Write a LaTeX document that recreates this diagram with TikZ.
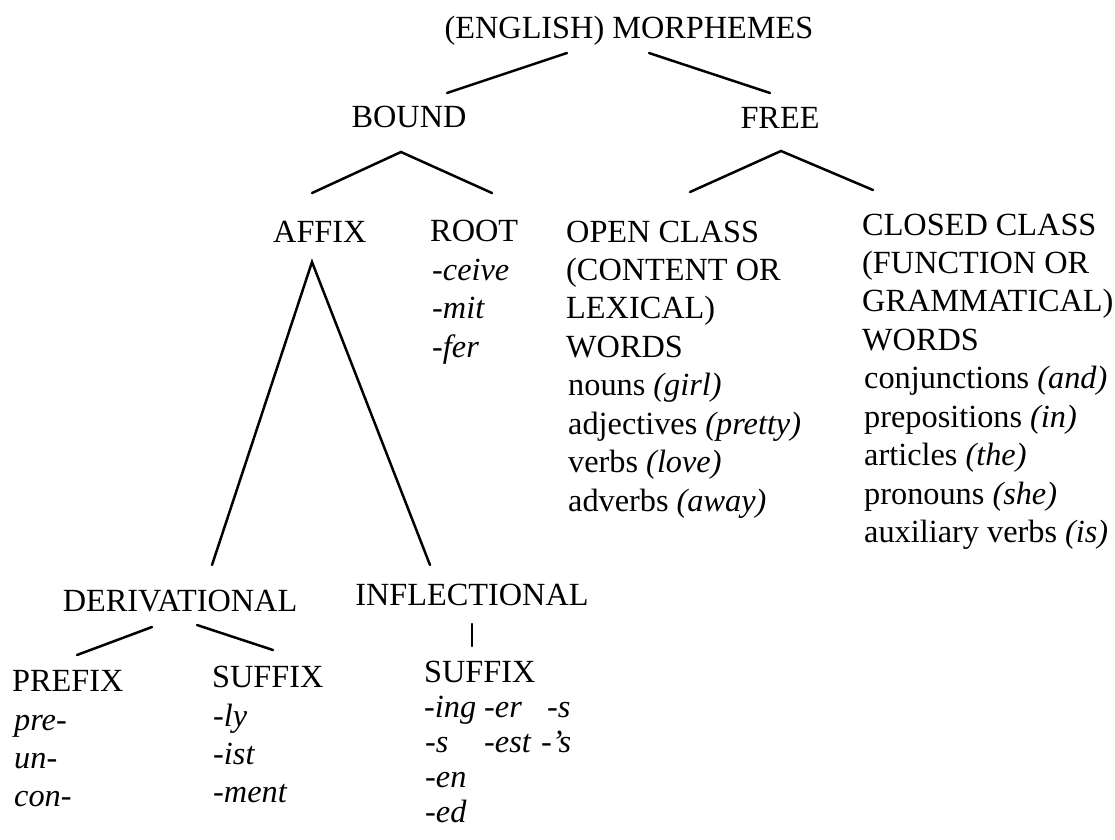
\documentclass[tikz,border=0pt]{standalone}
\usepackage{fontspec}
\setmainfont{Liberation Serif}
\begin{document}
\begin{tikzpicture}[x=1pt,y=-1pt,
  lbl/.style={inner sep=0pt, font=\fontsize{32.3}{38}\selectfont},
  itl/.style={inner sep=0pt, font=\fontsize{32.3}{38}\selectfont\itshape},
  br/.style={line width=2.5pt, line cap=round}]
\useasboundingbox (0,0) rectangle (1115,839);
\fill[white] (0,0) rectangle (1115,839);
% top levels
\node[lbl, anchor=base] (morph) at (629,38) {(ENGLISH) MORPHEMES};
\node[lbl, anchor=base] (bound) at (409,127) {BOUND};
\node[lbl, anchor=base] (free) at (780,128) {FREE};
% bound children
\node[lbl, anchor=base west] (affix) at (273,242) {AFFIX};
\node[lbl, anchor=base west] (rootm) at (430,241) {ROOT};
\node[itl, anchor=base west] (r1) at (432,280) {-ceive};
\node[itl, anchor=base west] (r2) at (432,318) {-mit};
\node[itl, anchor=base west] (r3) at (432,357) {-fer};
% open class
\node[lbl, anchor=base west] (o1) at (566,242) {OPEN CLASS};
\node[lbl, anchor=base west] (o2) at (566,280) {(CONTENT OR};
\node[lbl, anchor=base west] (o3) at (566,318) {LEXICAL)};
\node[lbl, anchor=base west] (o4) at (566,357) {WORDS};
\node[lbl, anchor=base west] (o5) at (568,395) {nouns \textit{(girl)}};
\node[lbl, anchor=base west] (o6) at (568,434) {adjectives \textit{(pretty)}};
\node[lbl, anchor=base west] (o7) at (568,472) {verbs \textit{(love)}};
\node[lbl, anchor=base west] (o8) at (568,511) {adverbs \textit{(away)}};
% closed class
\node[lbl, anchor=base west] (c1) at (862,235) {CLOSED CLASS};
\node[lbl, anchor=base west] (c2) at (862,273) {(FUNCTION OR};
\node[lbl, anchor=base west] (c3) at (862,311) {GRAMMATICAL)};
\node[lbl, anchor=base west] (c4) at (862,350) {WORDS};
\node[lbl, anchor=base west] (c5) at (864,388) {conjunctions \textit{(and)}};
\node[lbl, anchor=base west] (c6) at (864,427) {prepositions \textit{(in)}};
\node[lbl, anchor=base west] (c7) at (864,465) {articles \textit{(the)}};
\node[lbl, anchor=base west] (c8) at (864,504) {pronouns \textit{(she)}};
\node[lbl, anchor=base west] (c9) at (864,542) {auxiliary verbs \textit{(is)}};
% affix children
\node[lbl, anchor=base] (deriv) at (180,611) {DERIVATIONAL};
\node[lbl, anchor=base] (infl) at (472,605) {INFLECTIONAL};
\node[lbl, anchor=base west] (prefix) at (12,691) {PREFIX};
\node[itl, anchor=base west] (p1) at (14,730) {pre-};
\node[itl, anchor=base west] (p2) at (14,768) {un-};
\node[itl, anchor=base west] (p3) at (14,806) {con-};
\node[lbl, anchor=base west] (dsuf) at (212,687) {SUFFIX};
\node[itl, anchor=base west] (d1) at (213,726) {-ly};
\node[itl, anchor=base west] (d2) at (213,764) {-ist};
\node[itl, anchor=base west] (d3) at (213,802) {-ment};
\node[lbl, anchor=base west] (isuf) at (424,682) {SUFFIX};
\node[itl, anchor=base west] (i1) at (424,717) {-ing};
\node[itl, anchor=base west] (i2) at (484,717) {-er};
\node[itl, anchor=base west] (i3) at (547,717) {-s};
\node[itl, anchor=base west] (i4) at (425,752) {-s};
\node[itl, anchor=base west] (i5) at (484,752) {-est};
\node[itl, anchor=base west] (i6) at (541,752) {-’s};
\node[itl, anchor=base west] (i7) at (425,787) {-en};
\node[itl, anchor=base west] (i8) at (425,822) {-ed};
% connector end points
\coordinate (mA) at (567,53);  \coordinate (mB) at (447,93);
\coordinate (mC) at (649,53);  \coordinate (mD) at (770,93);
\coordinate (bA) at (401,152); \coordinate (bL) at (312,193); \coordinate (bR) at (492,193);
\coordinate (fA) at (781,151); \coordinate (fL) at (690,192); \coordinate (fR) at (873,190);
\coordinate (aA) at (312,262); \coordinate (aL) at (212,565); \coordinate (aR) at (430,565);
\coordinate (dA) at (152,627); \coordinate (dL) at (77,655);
\coordinate (dB) at (197,625); \coordinate (dR) at (273,650);
\coordinate (iA) at (472,624); \coordinate (iB) at (472,646);
% connectors
\draw[br] (mA) -- (mB);
\draw[br] (mC) -- (mD);
\draw[br] (bL) -- (bA) -- (bR);
\draw[br] (fL) -- (fA) -- (fR);
\draw[br] (aL) -- (aA) -- (aR);
\draw[br] (dA) -- (dL);
\draw[br] (dB) -- (dR);
\draw[br] (iA) -- (iB);
\end{tikzpicture}
\end{document}
